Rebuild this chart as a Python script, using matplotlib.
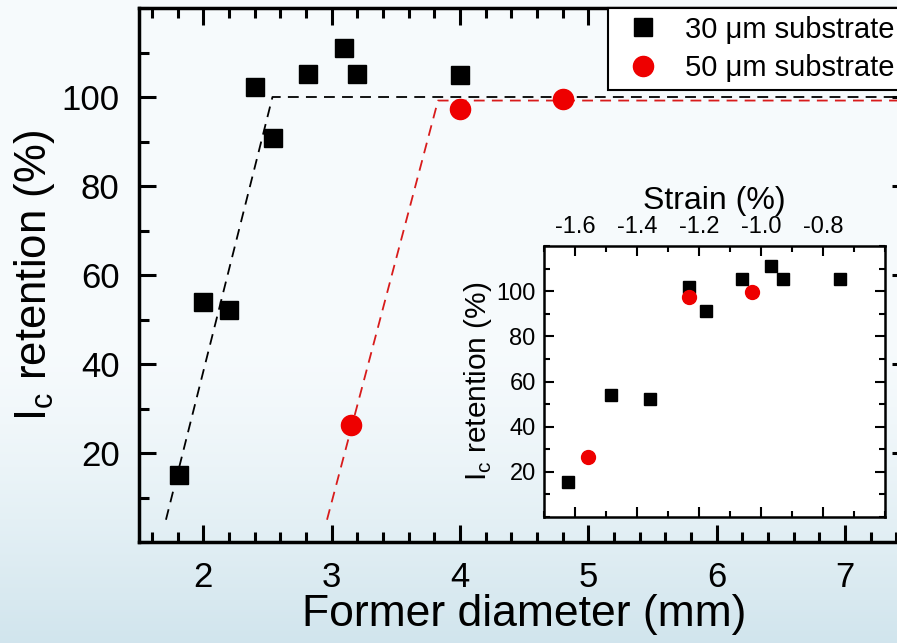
import numpy as np
import matplotlib
matplotlib.use("Agg")
import matplotlib.pyplot as plt
from matplotlib.ticker import MultipleLocator

plt.rcParams["font.family"] = ["Liberation Sans", "DejaVu Sans"]

# main panel: former diameter (mm) vs Ic retention (%)
d30 = [1.81, 2.0, 2.2, 2.4, 2.545, 2.82, 3.1, 3.2, 4.0]
r30 = [15.1, 54.0, 52.2, 102.3, 90.8, 105.2, 111.0, 105.2, 105.0]
d50 = [3.15, 4.0, 4.8]
r50 = [26.2, 97.3, 99.6]

# guide lines (dashed)
guide30_x = [1.71, 2.54, 7.5]
guide30_y = [5.0, 100.0, 100.0]
guide50_x = [2.965, 3.83, 7.5]
guide50_y = [5.0, 99.2, 99.2]

# inset: strain (%) vs Ic retention (%)
s30 = [-1.623, -1.484, -1.358, -1.232, -1.177, -1.061, -0.968, -0.929, -0.745]
s50 = [-1.558, -1.232, -1.029]
ir30 = [15.5, 53.9, 52.1, 102.0, 91.0, 105.5, 111.0, 105.5, 105.5]
ir50 = [26.5, 97.6, 99.8]

fig = plt.figure(figsize=(8.97, 6.43), dpi=100)

# slide-like background gradient
bg = fig.add_axes([0, 0, 1, 1], zorder=-10)
grad = np.linspace(0, 1, 256).reshape(-1, 1)
top_c = np.array([0.965, 0.982, 0.990])
bot_c = np.array([0.820, 0.898, 0.930])
w = np.clip((grad - 0.55) / 0.45, 0, 1) ** 1.3
img = top_c * (1 - w)[..., None] + bot_c * w[..., None]
bg.imshow(img.reshape(256, 1, 3), aspect="auto", extent=[0, 1, 0, 1], origin="upper")
bg.axis("off")

ax = fig.add_axes([139 / 897, 101 / 643, 770 / 897, 534 / 643])
ax.set_facecolor("none")

ax.plot(guide30_x, guide30_y, color="black", lw=1.3, ls=(0, (6, 4)), zorder=2)
ax.plot(guide50_x, guide50_y, color="#d81b1b", lw=1.3, ls=(0, (6, 4)), zorder=2)
ax.plot(d30, r30, "s", color="black", ms=13, ls="none", label="30 μm substrate", zorder=3)
ax.plot(d50, r50, "o", color="#ee0000", ms=14.5, ls="none", label="50 μm substrate", zorder=3)

ax.set_xlim(1.5, 7.5)
ax.set_ylim(0, 120)
ax.set_xticks([2, 3, 4, 5, 6, 7])
ax.set_yticks([20, 40, 60, 80, 100])
ax.xaxis.set_minor_locator(MultipleLocator(0.2))
ax.yaxis.set_minor_locator(MultipleLocator(10))
ax.tick_params(which="both", direction="in", top=True, right=True, width=2.2)
ax.tick_params(which="major", length=12, labelsize=25, pad=14)
ax.tick_params(which="minor", length=7)
for sp in ax.spines.values():
    sp.set_linewidth(2.5)

ax.set_xlabel("Former diameter (mm)", fontsize=32, labelpad=0)
ax.set_ylabel(r"I$_\mathregular{c}$ retention (%)", fontsize=31.5, labelpad=3)

leg = ax.legend(loc="upper left", bbox_to_anchor=(608 / 897, 1 - 8 / 643),
                bbox_transform=fig.transFigure, fontsize=21, frameon=True,
                fancybox=False, borderpad=0.26, handletextpad=0.5,
                handlelength=1.88, labelspacing=0.36, borderaxespad=0)
leg.get_frame().set_edgecolor("black")
leg.get_frame().set_linewidth(1.5)
leg.get_frame().set_facecolor("white")
leg.get_frame().set_alpha(1)

# inset
ins = fig.add_axes([544 / 897, 126 / 643, 341 / 897, 271 / 643])
ins.set_facecolor("white")
ins.plot(s30, ir30, "s", color="black", ms=9, ls="none")
ins.plot(s50, ir50, "o", color="#ee0000", ms=10, ls="none")
ins.set_xlim(-1.7, -0.6)
ins.set_ylim(0, 120)
ins.set_xticks([-1.6, -1.4, -1.2, -1.0, -0.8])
ins.set_xticklabels(["-1.6", "-1.4", "-1.2", "-1.0", "-0.8"])
ins.set_yticks([20, 40, 60, 80, 100])
ins.xaxis.set_minor_locator(MultipleLocator(0.1))
ins.yaxis.set_minor_locator(MultipleLocator(10))
ins.xaxis.tick_top()
ins.xaxis.set_label_position("top")
ins.tick_params(which="both", direction="in", top=True, bottom=True,
                left=True, right=True, width=1.5, labelbottom=False, labeltop=True)
ins.tick_params(which="major", length=7, labelsize=17, pad=6)
ins.tick_params(which="minor", length=4)
for sp in ins.spines.values():
    sp.set_linewidth(1.8)
ins.set_xlabel("Strain (%)", fontsize=23, labelpad=5)
ins.set_ylabel(r"I$_\mathregular{c}$ retention (%)", fontsize=21.5, labelpad=2)

fig.savefig("out.png", dpi=100)
